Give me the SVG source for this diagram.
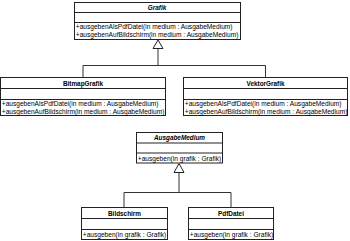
<svg xmlns="http://www.w3.org/2000/svg" width="350" height="241" viewBox="0 0 350 241">
  <style>
    .box { fill: #ffffff; stroke: #222222; stroke-width: 1; }
    .sep { stroke: #222222; stroke-width: 1; }
    .title { font-family: "Liberation Sans", Arial, sans-serif; font-size: 6.4px; font-weight: bold; fill: #000; text-anchor: middle; }
    .abstract { font-style: italic; }
    .op { font-family: "Liberation Sans", Arial, sans-serif; font-size: 6.6px; fill: #000; }
    .edge { fill: none; stroke: #333333; stroke-width: 1; }
    .head { fill: #ffffff; stroke: #222222; stroke-width: 1; }
  </style>
  <rect width="350" height="241" fill="#ffffff"/>

  <g id="connectors">
    <!-- Grafik generalization -->
    <polyline class="edge" points="83,77 83,65.5 265.5,65.5 265.5,77"/>
    <line class="edge" x1="158" y1="48" x2="158" y2="65.5"/>
    <polygon class="head" points="158,40 153,48.5 163,48.5"/>
    <!-- AusgabeMedium generalization -->
    <polyline class="edge" points="124,207.5 124,192.5 231,192.5 231,207.5"/>
    <line class="edge" x1="179" y1="172.5" x2="179" y2="192.5"/>
    <polygon class="head" points="179,163.5 174,172.5 184,172.5"/>
  </g>

  <g id="Grafik">
    <rect class="box" x="74.5" y="2.5" width="166" height="37"/>
    <line class="sep" x1="74.5" y1="12.5" x2="240.5" y2="12.5"/>
    <line class="sep" x1="74.5" y1="22.5" x2="240.5" y2="22.5"/>
    <text class="title abstract" x="157" y="10">Grafik</text>
    <text class="op" x="75.8" y="29.3">+ausgebenAlsPdfDatei(in medium : AusgabeMedium)</text>
    <text class="op" x="75.8" y="37">+ausgebenAufBildschirm(in medium : AusgabeMedium)</text>
  </g>

  <g id="BitmapGrafik">
    <rect class="box" x="0.5" y="77.5" width="165" height="38"/>
    <line class="sep" x1="0.5" y1="88.5" x2="165.5" y2="88.5"/>
    <line class="sep" x1="0.5" y1="99.5" x2="165.5" y2="99.5"/>
    <text class="title" x="83" y="85.5">BitmapGrafik</text>
    <text class="op" x="1.8" y="105.8">+ausgebenAlsPdfDatei(in medium : AusgabeMedium)</text>
    <text class="op" x="1.8" y="113.5">+ausgebenAufBildschirm(in medium : AusgabeMedium)</text>
  </g>

  <g id="VektorGrafik">
    <rect class="box" x="183.5" y="77.5" width="164" height="38"/>
    <line class="sep" x1="183.5" y1="88.5" x2="347.5" y2="88.5"/>
    <line class="sep" x1="183.5" y1="99.5" x2="347.5" y2="99.5"/>
    <text class="title" x="265.5" y="85.5">VektorGrafik</text>
    <text class="op" x="184.8" y="105.8">+ausgebenAlsPdfDatei(in medium : AusgabeMedium)</text>
    <text class="op" x="184.8" y="113.5">+ausgebenAufBildschirm(in medium : AusgabeMedium)</text>
  </g>

  <g id="AusgabeMedium">
    <rect class="box" x="136.5" y="132.5" width="86" height="30.5"/>
    <line class="sep" x1="136.5" y1="143" x2="222.5" y2="143"/>
    <line class="sep" x1="136.5" y1="153" x2="222.5" y2="153"/>
    <text class="title abstract" x="179.5" y="140.3">AusgabeMedium</text>
    <text class="op" x="137.8" y="160.5">+ausgeben(in grafik : Grafik)</text>
  </g>

  <g id="Bildschirm">
    <rect class="box" x="81.5" y="207.5" width="86" height="32"/>
    <line class="sep" x1="81.5" y1="218.5" x2="167.5" y2="218.5"/>
    <line class="sep" x1="81.5" y1="229.5" x2="167.5" y2="229.5"/>
    <text class="title" x="124.5" y="215.8">Bildschirm</text>
    <text class="op" x="82.8" y="237">+ausgeben(in grafik : Grafik)</text>
  </g>

  <g id="PdfDatei">
    <rect class="box" x="188.5" y="207.5" width="85" height="32"/>
    <line class="sep" x1="188.5" y1="218.5" x2="273.5" y2="218.5"/>
    <line class="sep" x1="188.5" y1="229.5" x2="273.5" y2="229.5"/>
    <text class="title" x="231" y="215.8">PdfDatei</text>
    <text class="op" x="189.8" y="237">+ausgeben(in grafik : Grafik)</text>
  </g>
</svg>
